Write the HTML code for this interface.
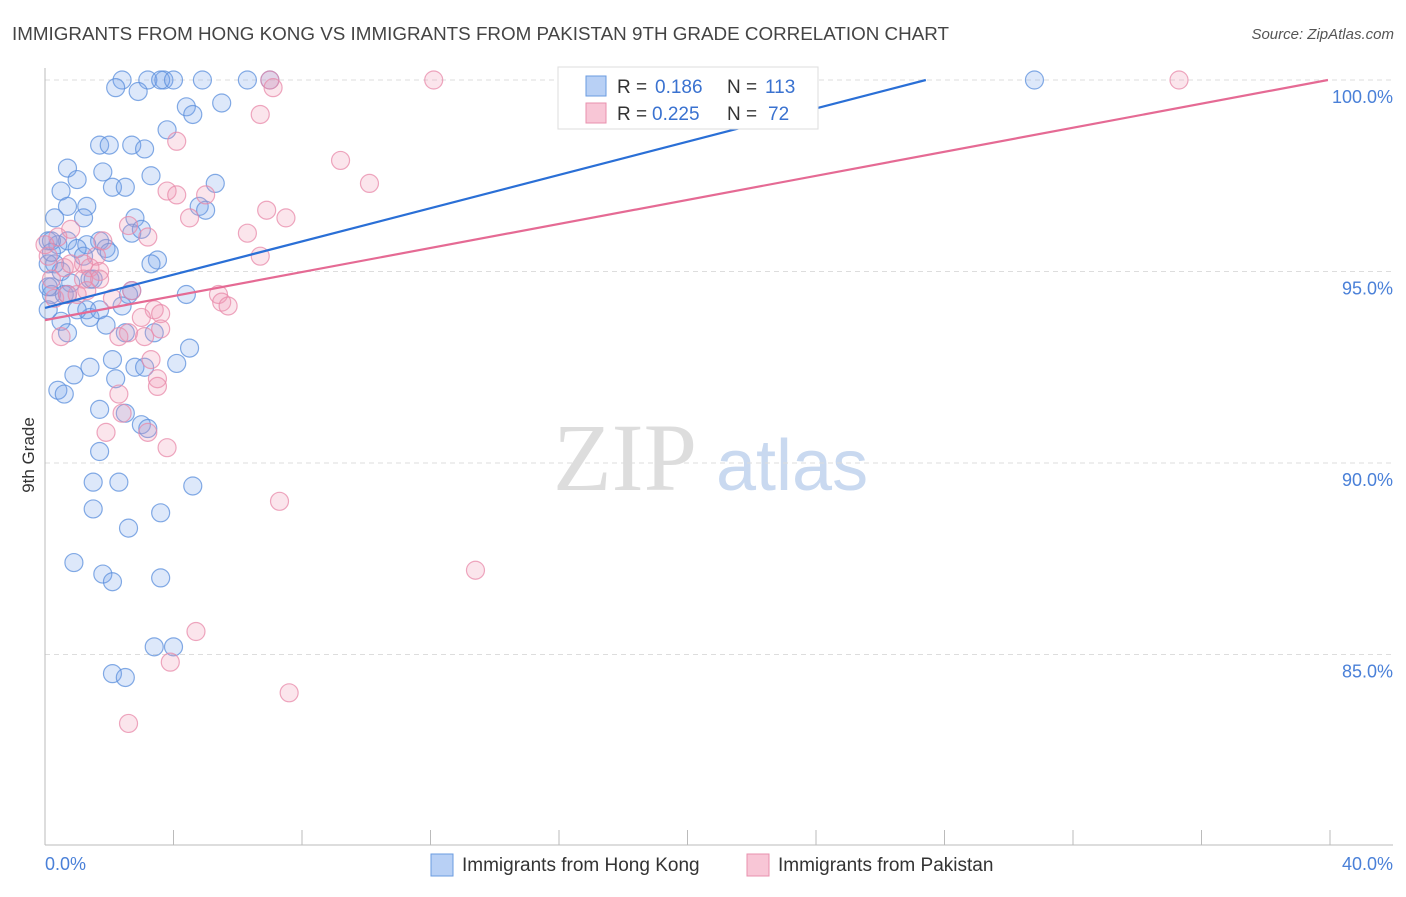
<!DOCTYPE html>
<html><head><meta charset="utf-8"><style>
body{margin:0;background:#fff;font-family:"Liberation Sans",sans-serif;}
</style></head><body>
<svg id="chart" width="1406" height="892" xmlns="http://www.w3.org/2000/svg" font-family="Liberation Sans, sans-serif">
<text x="12" y="40" font-size="18" fill="#444" textLength="937" lengthAdjust="spacingAndGlyphs">IMMIGRANTS FROM HONG KONG VS IMMIGRANTS FROM PAKISTAN 9TH GRADE CORRELATION CHART</text>
<text x="1394" y="39" font-size="15" fill="#555" text-anchor="end" font-style="italic">Source: ZipAtlas.com</text>
<text transform="translate(34,455) rotate(-90)" font-size="17" fill="#333" text-anchor="middle">9th Grade</text>
<g><text x="553" y="490" font-size="96" fill="#ddd" font-family="Liberation Serif, serif">ZIP</text><text x="716" y="490" font-size="72" fill="#c9d9f0">atlas</text></g>
<g id="grid"></g><g id="axes"></g><g id="pts"></g><g id="lines"></g>
<g>
<rect x="558" y="67" width="260" height="62" fill="#fff" stroke="#ddd"/>
<rect x="586" y="76" width="20" height="20" fill="#b8d0f5" stroke="#6a9be0"/>
<text x="617" y="93" font-size="19" fill="#333">R =</text>
<text x="655" y="93" font-size="19" fill="#3a72d0">0.186</text>
<text x="727" y="93" font-size="19" fill="#333">N =</text>
<text x="765" y="93" font-size="19" fill="#3a72d0">113</text>
<rect x="586" y="103" width="20" height="20" fill="#f8c6d6" stroke="#e890ae"/>
<text x="617" y="120" font-size="19" fill="#333">R =</text>
<text x="652" y="120" font-size="19" fill="#3a72d0">0.225</text>
<text x="727" y="120" font-size="19" fill="#333">N =</text>
<text x="768" y="120" font-size="19" fill="#3a72d0">72</text>
</g>
<g>
<rect x="431" y="854" width="22" height="22" fill="#b8d0f5" stroke="#6a9be0"/>
<text x="462" y="871" font-size="19" fill="#333">Immigrants from Hong Kong</text>
<rect x="747" y="854" width="22" height="22" fill="#f8c6d6" stroke="#e890ae"/>
<text x="778" y="871" font-size="19" fill="#333">Immigrants from Pakistan</text>
</g>
</svg>
<script>
const yTicks=[100,95,90,85];
const xTickLabels=["0.0%","40.0%"];
const hkX=[2.4,3.2,3.7,3.6,4.0,4.9,6.3,7.0,30.8,2.2,2.9,4.4,4.6,5.5,3.8,1.7,2.0,2.7,3.1,0.7,1.8,3.3,5.3,0.5,2.1,2.5,1.0,1.3,0.7,4.8,5.0,0.3,1.2,2.8,2.7,3.0,0.1,0.7,1.7,1.3,0.4,1.9,1.0,2.0,1.2,3.5,3.3,0.3,0.5,1.4,0.8,1.5,0.2,0.2,0.6,0.7,4.4,2.7,2.6,2.4,1.3,1.4,1.0,1.7,1.9,0.5,0.7,2.5,3.4,4.1,4.5,2.1,2.8,3.1,0.9,1.4,2.2,0.4,0.6,1.7,2.5,3.0,3.2,1.7,1.5,2.3,1.5,2.6,3.6,4.6,0.9,1.8,2.1,3.6,3.4,4.0,2.1,2.5,0.1,0.2,0.1,0.1,0.2];
const hkY=[100,100,100,100,100,100,100,100,100,99.8,99.7,99.3,99.1,99.4,98.7,98.3,98.3,98.3,98.2,97.7,97.6,97.5,97.3,97.1,97.2,97.2,97.4,96.7,96.7,96.7,96.6,96.4,96.4,96.4,96.0,96.1,95.8,95.8,95.8,95.7,95.7,95.6,95.6,95.5,95.4,95.3,95.2,95.2,95.0,94.8,94.7,94.8,94.6,94.4,94.4,94.4,94.4,94.5,94.4,94.1,94.0,93.8,94.0,94.0,93.6,93.7,93.4,93.4,93.4,92.6,93.0,92.7,92.5,92.5,92.3,92.5,92.2,91.9,91.8,91.4,91.3,91.0,90.9,90.3,89.5,89.5,88.8,88.3,88.7,89.4,87.4,87.1,86.9,87.0,85.2,85.2,84.5,84.4,95.2,95.5,94.6,94.0,95.8];
const pkX=[16.4,12.1,35.3,7.0,7.1,6.7,4.1,9.2,10.1,3.8,4.1,5.0,6.9,7.5,4.5,6.3,2.6,3.2,0.4,0.8,1.8,1.6,1.2,1.4,0.6,1.7,1.2,1.7,6.7,0.1,0.2,0.3,0.7,5.4,5.5,5.7,2.1,2.7,3.4,3.6,3.0,2.6,2.3,3.1,3.6,3.3,3.5,3.5,2.3,2.4,1.9,3.2,3.8,7.3,13.4,4.7,3.9,7.6,2.6,0.5,1.0,1.3,0.8,0];
const pkY=[100,100,100,100,99.8,99.1,98.4,97.9,97.3,97.1,97.0,97.0,96.6,96.4,96.4,96.0,96.2,95.9,95.9,96.1,95.8,95.4,95.2,95.1,95.1,95.0,94.8,94.8,95.4,95.4,94.8,94.3,94.4,94.4,94.2,94.1,94.3,94.5,94.0,93.9,93.8,93.4,93.3,93.3,93.5,92.7,92.2,92.0,91.8,91.3,90.8,90.8,90.4,89.0,87.2,85.6,84.8,84.0,83.2,93.3,94.4,94.5,95.2,95.7];
const hkTrend=[94.05,0.217];
const pkTrend=[93.73,0.157];
const NS="http://www.w3.org/2000/svg";
function sx(v){return 45+v/40*1285;}
function sy(v){return 80+(100-v)*38.3;}
function mk(tag,attrs,parent){const e=document.createElementNS(NS,tag);for(const k in attrs)e.setAttribute(k,attrs[k]);parent.appendChild(e);return e;}
const grid=document.getElementById('grid'),axes=document.getElementById('axes'),pts=document.getElementById('pts'),lines=document.getElementById('lines');
yTicks.forEach(t=>{
 const l=mk('line',{x1:45,x2:1393,y1:sy(t),y2:sy(t),stroke:'#ddd','stroke-dasharray':'5,4'},grid);
 
 
 const tx=mk('text',{x:1393,y:sy(t)+23,'font-size':18,fill:'#4a80d8','text-anchor':'end'},axes);
 tx.textContent=t.toFixed(1)+'%';
 
 
});
const ya=mk('line',{x1:45,x2:45,y1:68,y2:845,stroke:'#bbb'},axes);


const xa=mk('line',{x1:45,x2:1393,y1:845,y2:845,stroke:'#bbb'},axes);


for(let i=0;i<=10;i++){const x=sx(i*4);const t=mk('line',{x1:x,x2:x,y1:830,y2:845,stroke:'#bbb'},axes);
 
 }
const xl0=mk('text',{x:45,y:870,'font-size':18,fill:'#4a80d8'},axes);xl0.textContent=xTickLabels[0];


const xl1=mk('text',{x:1393,y:870,'font-size':18,fill:'#4a80d8','text-anchor':'end'},axes);xl1.textContent=xTickLabels[1];


function dots(X,Y,fill,stroke,name){for(let i=0;i<X.length;i++){const c=mk('circle',{cx:sx(X[i]),cy:sy(Y[i]),r:9,fill:fill,stroke:stroke,'stroke-width':1.2,'stroke-opacity':0.75},pts);
 
 }}
dots(hkX,hkY,'rgba(120,165,235,0.25)','#5b8fdc','hong-kong-point');
dots(pkX,pkY,'rgba(240,150,180,0.25)','#e88aaa','pakistan-point');
function trend(p,color,name){let x2=40,y2=p[0]+p[1]*40;if(y2>100){x2=(100-p[0])/p[1];y2=100;}
 const l=mk('line',{x1:sx(0),y1:sy(p[0]),x2:sx(x2),y2:sy(y2),stroke:color,'stroke-width':2.2},lines);
 
 }
trend(hkTrend,'#2a6fd6','hong-kong-trend-line');
trend(pkTrend,'#e56a94','pakistan-trend-line');
</script>
</body></html>
